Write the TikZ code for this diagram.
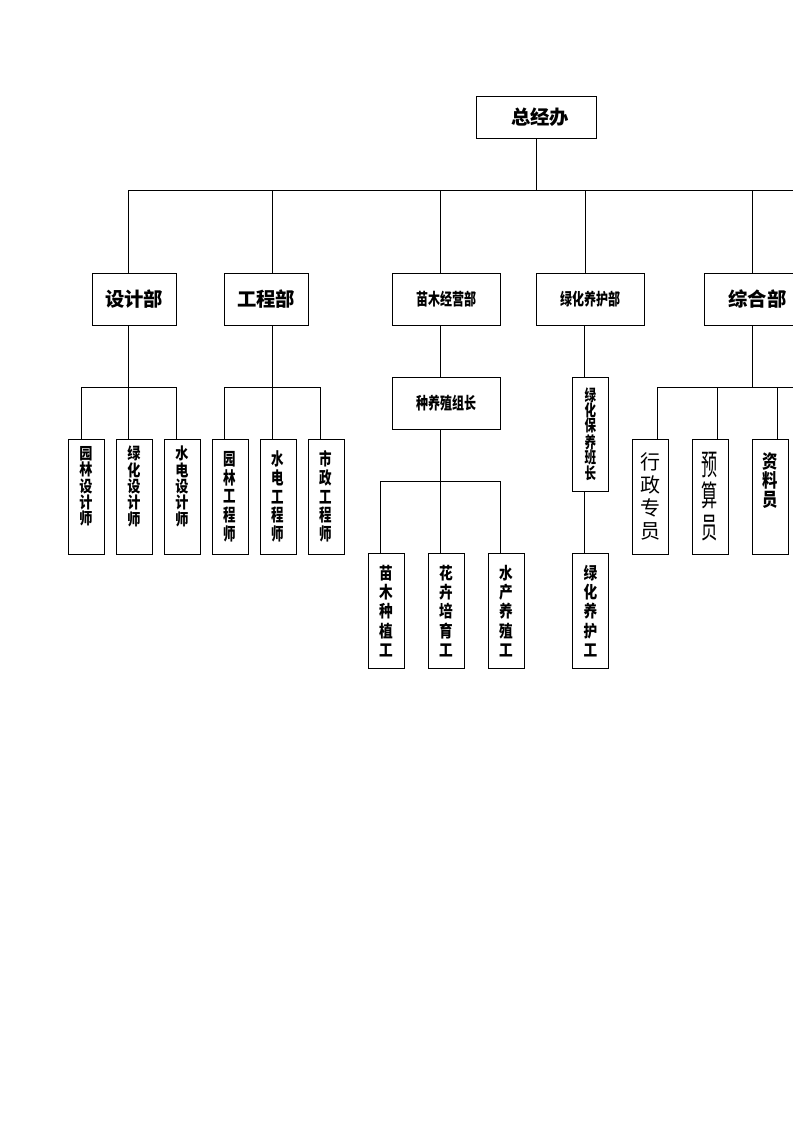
\documentclass[tikz,border=0pt]{standalone}
\usepackage{fontspec}
\newfontfamily\hei{Noto Sans CJK SC}
\newfontfamily\heicond[FakeStretch=0.72]{Noto Sans CJK SC}
\newfontfamily\heinarrow[FakeStretch=0.82]{Noto Sans CJK SC}
\newfontfamily\heitall[FakeStretch=0.55]{Noto Sans CJK SC}
\usetikzlibrary{positioning,calc}

\tikzset{
  box/.style={draw,line width=0.7pt,inner sep=0pt},
  topbox/.style={box,minimum width=90pt,minimum height=31.5pt,font=\hei\bfseries\fontsize{14.5}{16}\selectfont},
  deptbox/.style={box,minimum width=63pt,minimum height=39pt,font=\hei\bfseries\fontsize{14.5}{16}\selectfont},
  widebox/.style={box,minimum width=81pt,minimum height=39pt,font=\heicond\bfseries\fontsize{12.5}{14}\selectfont},
  vbox/.style={box,minimum width=27pt,minimum height=86.25pt,align=center},
  vsmall/.style={vbox,font=\heinarrow\bfseries\fontsize{12}{12.3}\selectfont},
  vmid/.style={vbox,font=\heicond\bfseries\fontsize{13}{14}\selectfont},
  vbig/.style={vbox,font=\heinarrow\bfseries\fontsize{12.5}{14.4}\selectfont},
}

\begin{document}
\begin{tikzpicture}[x=0.75pt,y=-0.75pt,line width=0.7pt]
\useasboundingbox (0,0) rectangle (793,1122);
\clip (0,0) rectangle (793,1122);

% top and departments
\node[topbox] (zjb) at (536,117) {\hspace{6pt}总经办};
\node[deptbox] (sjb) at (134,299) {设计部};
\node[deptbox] (gcb) at (266,299) {工程部};
\node[widebox] (mmb) at (446,299) {苗木经营部};
\node[widebox] (lhb) at (590,299) {绿化养护部};
\node[deptbox,minimum width=72pt] (zhb) at (752,299) {\hspace{8pt}综合部};

% second level
\node[widebox] (zzb) at (446,403) {种养殖组长};
\node[vbox,minimum height=85.5pt,font=\heicond\bfseries\fontsize{12}{11.5}\selectfont] (bzb) at (590.5,434) {绿\\化\\保\\养\\班\\长};

% staff
\node[vsmall] (ylsjs) at (86,496.5) {园\\林\\设\\计\\师\\[4pt]};
\node[vsmall] (lhsjs) at (134,496.5) {绿\\化\\设\\计\\师\\[4pt]};
\node[vsmall] (sdsjs) at (182,496.5) {水\\电\\设\\计\\师\\[4pt]};
\node[vmid] (ylgcs) at (230,496.5) {园\\林\\工\\程\\师};
\node[vmid] (sdgcs) at (278,496.5) {水\\电\\工\\程\\师};
\node[vmid] (szgcs) at (326,496.5) {市\\政\\工\\程\\师};
\node[vbig] (mmzzg) at (386,611) {苗\\木\\种\\植\\工};
\node[vbig] (hhpyg) at (446,611) {花\\卉\\培\\育\\工};
\node[vbig] (scyzg) at (506,611) {水\\产\\养\\殖\\工};
\node[vbig] (lhyhg) at (590.5,611) {绿\\化\\养\\护\\工};
\node[vbox,font=\hei\fontsize{15}{17.3}\selectfont] (xzzy) at (650,496.5) {行\\政\\专\\员};
\node[vbox,font=\heitall\fontsize{22}{23.8}\selectfont] (ysy) at (710,496.5) {预\\算\\员};
\node[vbox,label={[align=center,anchor=north,yshift=-7pt,font=\heinarrow\bfseries\fontsize{14}{14.3}\selectfont]north:{资\\料\\员}}] (zly) at (770,496.5) {};

% main bus
\coordinate (bus0) at (128,190);
\coordinate (bus1) at (793,190);
\draw (zjb.south) -- (zjb.south |- bus0);
\draw (bus0) -- (bus1);
\foreach \d/\x in {sjb/128,gcb/272,mmb/440,lhb/585,zhb/752}
  \draw (\x,0 |- bus0) -- (\x,0 |- \d.north);

% design
\coordinate (sjbus) at (81,387);
\draw (128,0 |- sjb.south) -- (128,0 |- sjbus);
\draw (sjbus) -- (176,0 |- sjbus);
\foreach \k/\x in {ylsjs/81,lhsjs/128,sdsjs/176}
  \draw (\x,0 |- sjbus) -- (\x,0 |- \k.north);

% engineering
\coordinate (gcbus) at (224,387);
\draw (272,0 |- gcb.south) -- (272,0 |- gcbus);
\draw (gcbus) -- (320,0 |- gcbus);
\foreach \k/\x in {ylgcs/224,sdgcs/272,szgcs/320}
  \draw (\x,0 |- gcbus) -- (\x,0 |- \k.north);

% nursery
\coordinate (mmbus) at (380,481);
\draw (440,0 |- mmb.south) -- (440,0 |- zzb.north);
\draw (440,0 |- zzb.south) -- (440,0 |- mmbus);
\draw (mmbus) -- (500,0 |- mmbus);
\foreach \k/\x in {mmzzg/380,hhpyg/440,scyzg/500}
  \draw (\x,0 |- mmbus) -- (\x,0 |- \k.north);

% greening
\draw (584,0 |- lhb.south) -- (584,0 |- bzb.north);
\draw (584,0 |- bzb.south) -- (584,0 |- lhyhg.north);

% general affairs
\coordinate (zhbus) at (657,387);
\coordinate (zhend) at (793,387);
\draw (752,0 |- zhb.south) -- (752,0 |- zhbus);
\draw (zhbus) -- (zhend);
\foreach \k/\x in {xzzy/657,ysy/717,zly/777}
  \draw (\x,0 |- zhbus) -- (\x,0 |- \k.north);

\end{tikzpicture}
\end{document}
